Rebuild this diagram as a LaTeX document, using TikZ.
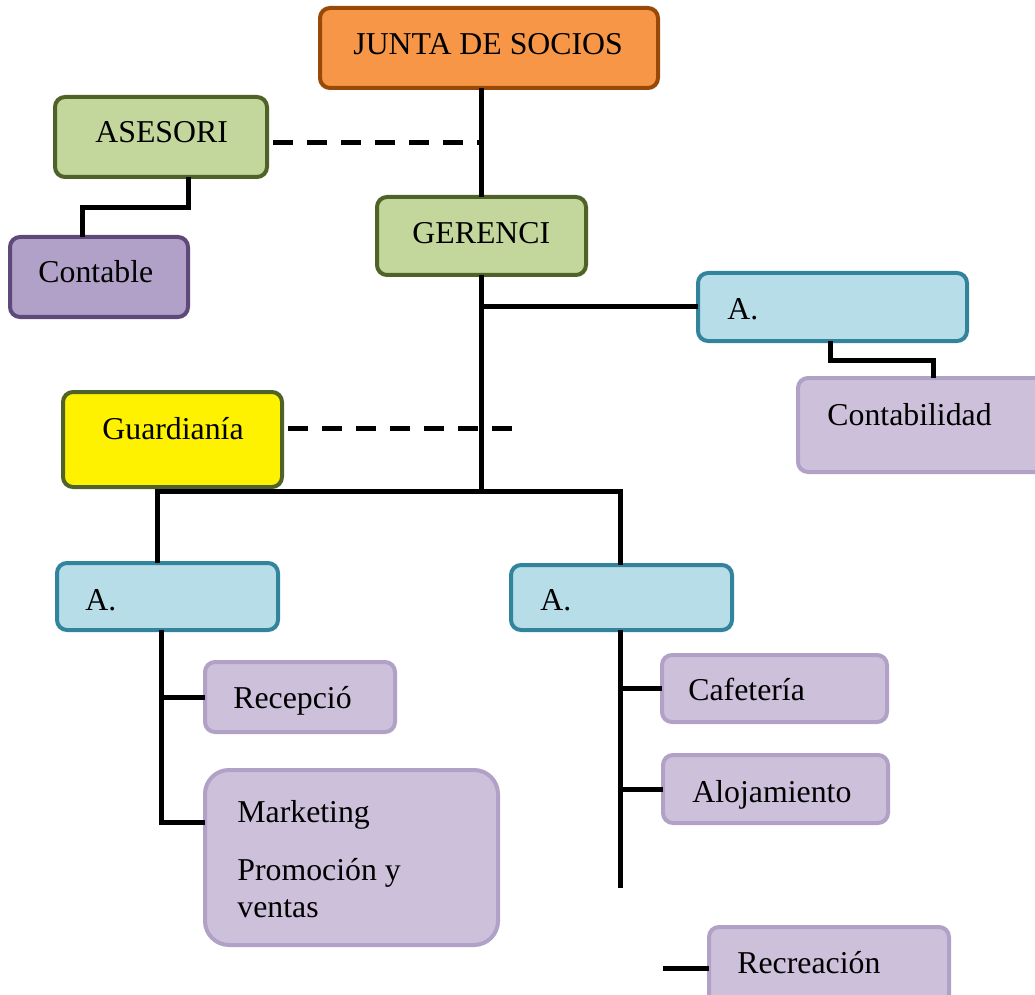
\documentclass[tikz,border=0pt]{standalone}
\usepackage{fontspec}
\setmainfont{Liberation Serif}
\definecolor{orgfill}{HTML}{F79646}
\definecolor{orgline}{HTML}{984807}
\definecolor{grnfill}{HTML}{C3D69B}
\definecolor{grnline}{HTML}{4F6228}
\definecolor{vioFill}{HTML}{B1A0C7}
\definecolor{vioLine}{HTML}{5F497A}
\definecolor{lavFill}{HTML}{CCC0DA}
\definecolor{lavLine}{HTML}{B2A1C7}
\definecolor{bluFill}{HTML}{B7DDE8}
\definecolor{bluLine}{HTML}{31849B}
\tikzset{
  unitbox/.style={rectangle, rounded corners=5pt, line width=2pt, inner sep=0pt, outer sep=0pt},
  juntabox/.style={unitbox, fill=orgfill, draw=orgline},
  greenbox/.style={unitbox, fill=grnfill, draw=grnline},
  yellowbox/.style={unitbox, fill=yellow, draw=grnline},
  violetbox/.style={unitbox, fill=vioFill, draw=vioLine},
  lavbox/.style={unitbox, fill=lavFill, draw=lavLine},
  bluebox/.style={unitbox, fill=bluFill, draw=bluLine},
  lbl/.style={inner sep=0pt, anchor=base west, font=\fontsize{15.9}{19}\selectfont},
  link/.style={line width=2.5pt, black},
  dashlink/.style={line width=2.5pt, black, dash pattern=on 10pt off 7pt, dash phase=-3pt},
}
% box from corner (x1,y1) to (x2,y2), given in picture units
\newcommand\orgbox[6]{%
  \node[#6, minimum width={(#4-#2)*0.5pt}, minimum height={(#5-#3)*0.5pt}]
    (#1) at ({(#2+#4)/2},{(#3+#5)/2}) {};}
\begin{document}
\begin{tikzpicture}[x=0.5pt,y=-0.5pt]
\useasboundingbox (0,0) rectangle (1035,995);
\clip (0,0) rectangle (1035,995);

% ---- boxes ----
\orgbox{junta}{320}{8}{658}{88}{juntabox}
\orgbox{asesori}{55}{97}{267}{177}{greenbox}
\orgbox{contable}{10}{237}{188}{317}{violetbox}
\orgbox{gerencia}{377}{197}{586}{275}{greenbox}
\orgbox{arriba}{698}{273}{967}{341}{bluebox}
\orgbox{contab}{798}{378}{1045}{472}{lavbox}
\orgbox{guardia}{63}{392}{282}{487}{yellowbox}
\orgbox{aizq}{57}{563}{278}{630}{bluebox}
\orgbox{ader}{511}{565}{732}{630}{bluebox}
\orgbox{recep}{205}{662}{395}{732}{lavbox}
\orgbox{market}{205}{770}{498}{945}{lavbox, rounded corners=12pt}
\orgbox{cafe}{662}{655}{887}{722}{lavbox}
\orgbox{aloja}{663}{755}{888}{823}{lavbox}
\orgbox{recrea}{709}{927}{949}{1009}{lavbox}

% ---- labels ----
\node[lbl] at (353,55) {JUNTA DE SOCIOS};
\node[lbl] at (95,143) {ASESORI};
\node[lbl] at (38,283) {Contable};
\node[lbl] at (412,243) {GERENCI};
\node[lbl] at (727,320) {A.};
\node[lbl] at (827,425) {Contabilidad};
\node[lbl] at (102,439) {Guardianía};
\node[lbl] at (85,610) {A.};
\node[lbl] at (540,610) {A.};
\node[lbl] at (233,708) {Recepció};
\node[lbl] at (237,822) {Marketing};
\node[lbl] at (237,880) {Promoción y};
\node[lbl] at (237,917) {ventas};
\node[lbl] at (688,700) {Cafetería};
\node[lbl] at (692,802) {Alojamiento};
\node[lbl] at (737,973) {Recreación};

% ---- connector bends and free ends ----
\coordinate (jTrunk) at (481,88);
\coordinate (aDrop) at (188,177);
\coordinate (aBend) at (82,208);
\coordinate (dashA) at (481,143);
\coordinate (cBend) at (830,360);
\coordinate (cDrop) at (933,378);
\coordinate (dashG) at (512,428);
\coordinate (busL) at (157,491);
\coordinate (busR) at (620,491);
\coordinate (leftTrunk) at (161,630);
\coordinate (mkJoin) at (161,822);
\coordinate (rightEnd) at (620,888);
\coordinate (recStart) at (663,968);

% ---- connectors ----
\draw[link] (jTrunk) -- (gerencia.north -| jTrunk);
\draw[dashlink] (asesori.east |- dashA) -- (dashA);
\draw[link] (aDrop) |- (aBend) -- (contable.north -| aBend);
\draw[link] (gerencia.south -| jTrunk) -- (jTrunk |- busL);
\draw[link] (jTrunk |- arriba.west) -- (arriba.west);
\draw[link] (cBend |- arriba.south) -- (cBend) -| (cDrop);
\draw[dashlink] (guardia.east |- dashG) -- (dashG);
\draw[link] (aizq.north -| busL) -- (busL) -- (busR) -- (ader.north -| busR);
\draw[link] (leftTrunk) -- (mkJoin) -- (market.west |- mkJoin);
\draw[link] (leftTrunk |- recep.west) -- (recep.west);
\draw[link] (ader.south -| busR) -- (rightEnd);
\draw[link] (busR |- cafe.west) -- (cafe.west);
\draw[link] (busR |- aloja.west) -- (aloja.west);
\draw[link] (recStart) -- (recrea.west);
\end{tikzpicture}
\end{document}
